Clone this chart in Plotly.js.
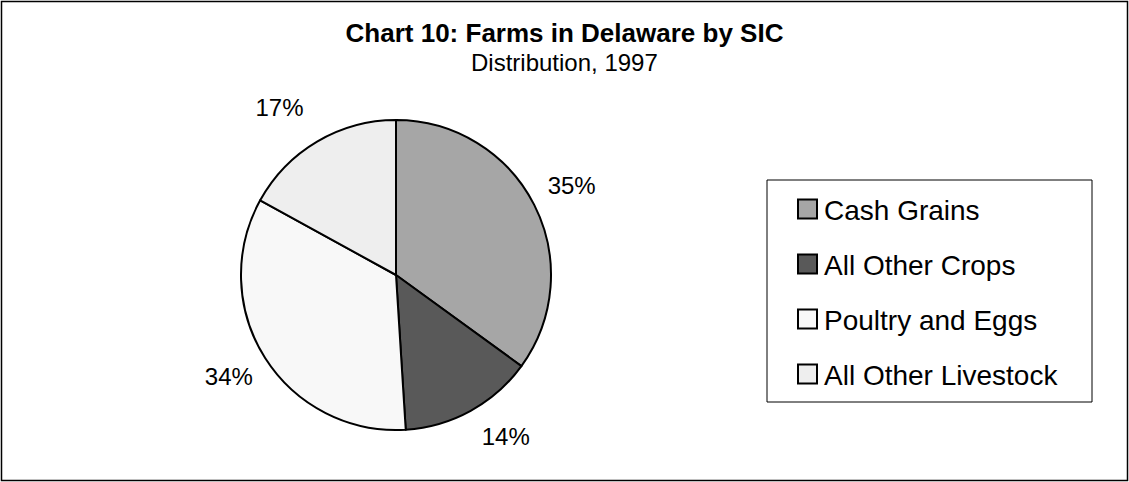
<!DOCTYPE html>
<html>
<head>
<meta charset="utf-8">
<script src="https://cdn.plot.ly/plotly-3.0.1.min.js"></script>
<style>
  html, body { margin: 0; padding: 0; background: #fff; }
  #chart { width: 1129px; height: 482px; }
</style>
</head>
<body>
<div id="chart"></div>
<script>
// ---- data ----
const categories = ["Cash Grains", "All Other Crops", "Poultry and Eggs", "All Other Livestock"];
const shares = [35, 14, 34, 17];
const sliceColors = ["#A6A6A6", "#595959", "#F8F8F8", "#EEEEEE"];
const chartTitle = "Chart 10: Farms in Delaware by SIC";
const chartSubtitle = "Distribution, 1997";

// ---- layout helpers (pixel -> paper) ----
const W = 1129, H = 482;
const px = x => x / W;
const py = y => 1 - y / H;
const FONT = "Arial, 'Liberation Sans', Helvetica, sans-serif";

// outside labels sit a little further from the pie in the reference:
// pad each label box with a small empty line on the side facing the pie
const pad = s => "<span style='font-size:" + s + "px'> </span>";
const labelTemplates = [
  "%{percent:.0%}<br>" + pad(3),
  pad(9) + "<br>%{percent:.0%}",
  pad(14) + "<br>%{percent:.0%}",
  "%{percent:.0%}<br>" + pad(3)
];

const trace = {
  type: "pie",
  labels: categories,
  values: shares,
  sort: false,
  direction: "clockwise",
  rotation: 0,
  marker: { colors: sliceColors, line: { color: "#000", width: 2 } },
  texttemplate: labelTemplates,
  textposition: "outside",
  outsidetextfont: { family: FONT, size: 24, color: "#000" },
  domain: { x: [px(241), px(551)], y: [py(430), py(120)] },
  hoverinfo: "label+percent",
  showlegend: false
};

// manual legend built from the data arrays
const shapes = [
  // outer frame
  { type: "rect", xref: "paper", yref: "paper",
    x0: px(1.5), x1: px(1127.5), y0: py(480.5), y1: py(1.5),
    line: { color: "#000", width: 1.5 }, fillcolor: "rgba(0,0,0,0)" },
  // legend box
  { type: "rect", xref: "paper", yref: "paper",
    x0: px(767), x1: px(1092), y0: py(402), y1: py(180),
    line: { color: "#000", width: 1 }, fillcolor: "#fff" }
];
const annotations = [];
const rowStart = 209, rowGap = 55, sw = 19;
categories.forEach((c, i) => {
  const cy = rowStart + i * rowGap;
  shapes.push({ type: "rect", xref: "paper", yref: "paper",
    x0: px(798), x1: px(798 + sw), y0: py(cy + sw / 2), y1: py(cy - sw / 2),
    line: { color: "#000", width: 2 }, fillcolor: sliceColors[i] });
  annotations.push({ xref: "paper", yref: "paper", x: px(822), y: py(cy + 1),
    xanchor: "left", yanchor: "middle", showarrow: false, text: c,
    font: { family: FONT, size: 28, color: "#000" } });
});

// subtitle
annotations.push({ xref: "paper", yref: "paper", x: 0.5, y: py(63),
  xanchor: "center", yanchor: "middle", showarrow: false, text: chartSubtitle,
  font: { family: FONT, size: 24, color: "#000" } });

const layout = {
  width: W, height: H,
  margin: { l: 0, r: 0, t: 0, b: 0 },
  paper_bgcolor: "#fff",
  plot_bgcolor: "#fff",
  title: { text: "<b>" + chartTitle + "</b>", x: 0.5, xanchor: "center",
           y: py(33), yanchor: "middle", yref: "paper",
           font: { family: FONT, size: 26, color: "#000" } },
  showlegend: false,
  shapes: shapes,
  annotations: annotations,
  font: { family: FONT, color: "#000" }
};

Plotly.newPlot("chart", [trace], layout, { displayModeBar: false, staticPlot: true });
</script>
</body>
</html>
